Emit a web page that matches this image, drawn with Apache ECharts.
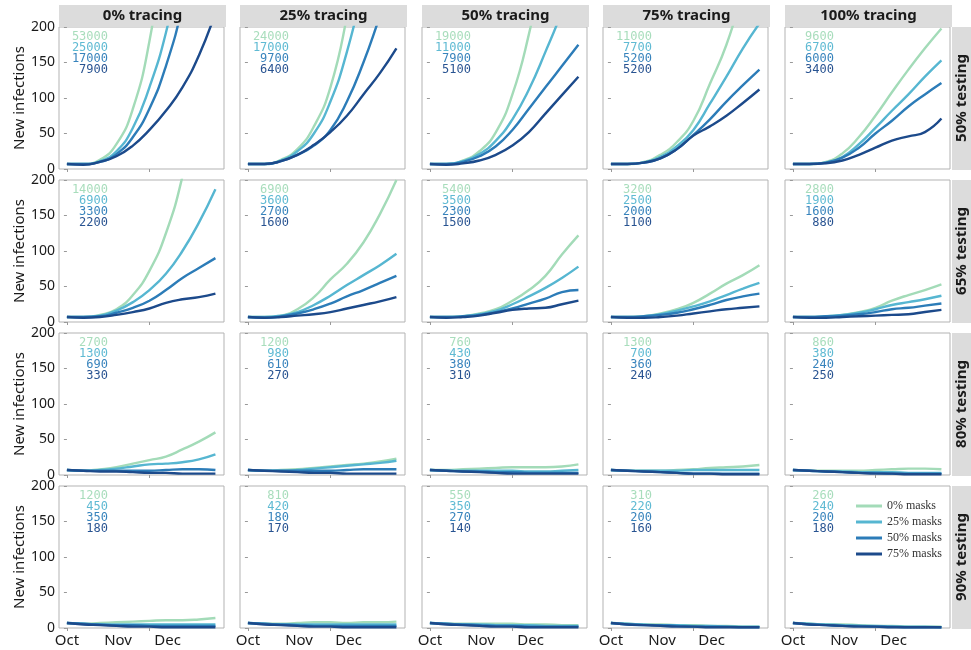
<!DOCTYPE html>
<html>
<head>
<meta charset="utf-8">
<script src="https://cdn.jsdelivr.net/npm/echarts@6/dist/echarts.min.js"></script>
<style>
  html, body { margin: 0; background: #fff; }
  #main { width: 971px; height: 650px; }
</style>
</head>
<body>
<div id="main"></div>
<script>
// days since 1 Oct
const days = [0, 10, 20, 30, 40, 50, 60, 70, 80, 90];
const tracing = ['0% tracing', '25% tracing', '50% tracing', '75% tracing', '100% tracing'];
const testing = ['50% testing', '65% testing', '80% testing', '90% testing'];
const masks = ['0% masks', '25% masks', '50% masks', '75% masks'];
const monthDays = [0, 31, 61];
const monthLabels = ['Oct', 'Nov', 'Dec'];
const colors = ['#a3dbb8', '#56b6d1', '#2c7cb8', '#1c4a8b'];

// new infections per panel, one row per mask level (0%, 25%, 50%, 75%)
// 50% testing
const test50_tr0 = [
  [7, 7, 13, 35, 85, 180, 330, 500, 700, 900],
  [7, 7, 11, 25, 58, 115, 192, 300, 450, 600],
  [7, 7, 10, 21, 45, 85, 145, 230, 350, 480],
  [7, 6, 10, 18, 33, 55, 82, 115, 160, 220]
];
const test50_tr25 = [
  [7, 7, 13, 28, 60, 115, 215, 350, 500, 650],
  [7, 7, 12, 25, 50, 95, 165, 260, 380, 520],
  [7, 7, 11, 20, 33, 55, 95, 150, 215, 280],
  [7, 7, 11, 20, 34, 52, 75, 105, 135, 170]
];
const test50_tr50 = [
  [7, 7, 12, 25, 52, 105, 190, 300, 430, 560],
  [7, 7, 11, 21, 40, 70, 112, 165, 222, 290],
  [7, 7, 10, 18, 32, 55, 85, 115, 145, 175],
  [7, 6, 8, 12, 20, 33, 52, 78, 104, 130]
];
const test50_tr75 = [
  [7, 7, 10, 20, 38, 68, 120, 175, 250, 330],
  [7, 7, 9, 17, 32, 55, 92, 130, 170, 205],
  [7, 7, 9, 15, 28, 48, 70, 95, 118, 140],
  [7, 7, 9, 15, 28, 47, 60, 75, 93, 112]
];
const test50_tr100 = [
  [7, 7, 10, 22, 45, 75, 108, 140, 170, 198],
  [7, 7, 9, 17, 35, 58, 82, 105, 130, 153],
  [7, 7, 9, 16, 30, 50, 68, 88, 105, 121],
  [7, 7, 8, 12, 20, 30, 40, 46, 52, 71]
];
// 65% testing
const test65_tr0 = [
  [7, 7, 10, 18, 38, 72, 125, 205, 320, 450],
  [7, 7, 9, 16, 28, 45, 68, 100, 140, 187],
  [7, 7, 8, 13, 20, 30, 45, 62, 76, 90],
  [7, 6, 7, 10, 14, 19, 27, 32, 35, 40]
];
const test65_tr25 = [
  [7, 7, 9, 18, 35, 60, 82, 112, 152, 200],
  [7, 7, 9, 14, 24, 37, 52, 66, 80, 96],
  [7, 6, 8, 12, 18, 26, 36, 45, 55, 65],
  [7, 6, 7, 9, 11, 14, 19, 24, 29, 35]
];
const test65_tr50 = [
  [7, 7, 8, 12, 18, 30, 45, 65, 95, 122],
  [7, 7, 8, 11, 16, 25, 36, 48, 62, 78],
  [7, 7, 8, 10, 14, 19, 26, 33, 42, 45],
  [7, 6, 7, 9, 13, 17, 19, 20, 25, 30]
];
const test65_tr75 = [
  [7, 7, 8, 12, 18, 27, 40, 54, 66, 80],
  [7, 7, 8, 11, 16, 22, 29, 38, 47, 55],
  [7, 7, 8, 10, 13, 18, 24, 31, 36, 40],
  [7, 6, 6, 7, 9, 12, 15, 18, 20, 22]
];
const test65_tr100 = [
  [7, 7, 8, 10, 14, 20, 30, 38, 45, 53],
  [7, 7, 8, 10, 13, 18, 24, 28, 32, 37],
  [7, 7, 8, 9, 11, 14, 18, 20, 23, 26],
  [7, 6, 6, 7, 8, 9, 10, 11, 14, 17]
];
// 80% testing
const test80_tr0 = [
  [7, 6, 8, 11, 16, 21, 26, 36, 47, 60],
  [7, 6, 7, 9, 12, 15, 16, 18, 22, 29],
  [7, 6, 6, 6, 6, 6, 7, 8, 8, 7],
  [7, 6, 5, 5, 4, 3, 3, 2, 2, 2]
];
const test80_tr25 = [
  [7, 6, 7, 8, 10, 12, 14, 16, 19, 23],
  [7, 6, 6, 7, 9, 11, 13, 15, 17, 20],
  [7, 6, 6, 6, 6, 6, 7, 8, 8, 8],
  [7, 6, 5, 4, 3, 3, 2, 2, 2, 2]
];
const test80_tr50 = [
  [7, 7, 8, 9, 10, 11, 11, 11, 12, 15],
  [7, 6, 6, 6, 6, 6, 5, 5, 6, 7],
  [7, 6, 5, 5, 4, 4, 3, 3, 3, 3],
  [7, 6, 5, 4, 3, 2, 2, 2, 2, 2]
];
const test80_tr75 = [
  [7, 6, 6, 6, 7, 8, 10, 11, 12, 14],
  [7, 6, 6, 6, 6, 7, 7, 7, 7, 7],
  [7, 6, 5, 4, 3, 2, 2, 2, 2, 2],
  [7, 6, 5, 4, 3, 2, 2, 1, 1, 1]
];
const test80_tr100 = [
  [7, 6, 6, 6, 6, 7, 8, 9, 9, 8],
  [7, 6, 5, 5, 4, 4, 4, 3, 3, 3],
  [7, 6, 5, 4, 3, 3, 2, 2, 2, 2],
  [7, 6, 5, 4, 3, 2, 2, 1, 1, 1]
];
// 90% testing
const test90_tr0 = [
  [7, 6, 7, 8, 9, 10, 11, 11, 12, 14],
  [7, 6, 5, 5, 5, 5, 5, 5, 5, 5],
  [7, 6, 5, 4, 4, 3, 3, 3, 3, 3],
  [7, 5, 4, 3, 2, 2, 1, 1, 1, 1]
];
const test90_tr25 = [
  [7, 6, 6, 7, 8, 8, 7, 8, 8, 9],
  [7, 6, 5, 5, 5, 5, 5, 5, 5, 5],
  [7, 6, 5, 4, 3, 3, 3, 3, 3, 3],
  [7, 5, 4, 3, 2, 2, 1, 1, 1, 1]
];
const test90_tr50 = [
  [7, 6, 6, 6, 6, 6, 5, 5, 4, 4],
  [7, 6, 5, 5, 4, 4, 4, 3, 3, 3],
  [7, 6, 5, 4, 3, 3, 2, 2, 2, 2],
  [7, 5, 4, 3, 2, 2, 1, 1, 1, 1]
];
const test90_tr75 = [
  [7, 6, 5, 5, 4, 4, 3, 3, 2, 2],
  [7, 6, 5, 4, 4, 3, 3, 2, 2, 2],
  [7, 5, 4, 4, 3, 2, 2, 2, 1, 1],
  [7, 5, 4, 3, 2, 2, 1, 1, 1, 1]
];
const test90_tr100 = [
  [7, 6, 5, 5, 4, 3, 3, 2, 2, 2],
  [7, 6, 5, 4, 3, 3, 2, 2, 2, 1],
  [7, 5, 4, 3, 3, 2, 2, 1, 1, 1],
  [7, 5, 4, 3, 2, 2, 1, 1, 1, 1]
];

// cumulative totals printed in each panel
const totals50 = [[53000, 25000, 17000, 7900], [24000, 17000, 9700, 6400], [19000, 11000, 7900, 5100], [11000, 7700, 5200, 5200], [9600, 6700, 6000, 3400]];
const totals65 = [[14000, 6900, 3300, 2200], [6900, 3600, 2700, 1600], [5400, 3500, 2300, 1500], [3200, 2500, 2000, 1100], [2800, 1900, 1600, 880]];
const totals80 = [[2700, 1300, 690, 330], [1200, 980, 610, 270], [760, 430, 380, 310], [1300, 700, 360, 240], [860, 380, 240, 250]];
const totals90 = [[1200, 450, 350, 180], [810, 420, 180, 170], [550, 350, 270, 140], [310, 220, 200, 160], [260, 240, 200, 180]];

const panels = [
  [test50_tr0, test50_tr25, test50_tr50, test50_tr75, test50_tr100],
  [test65_tr0, test65_tr25, test65_tr50, test65_tr75, test65_tr100],
  [test80_tr0, test80_tr25, test80_tr50, test80_tr75, test80_tr100],
  [test90_tr0, test90_tr25, test90_tr50, test90_tr75, test90_tr100]
];
const totals = [totals50, totals65, totals80, totals90];

// layout
const colLeft = [59, 240, 422, 603, 785];
const rowTop = [27, 180, 333, 486];
const W = 165, H = 142;
const sans = '"Noto Sans", "Open Sans", sans-serif';

const chart = echarts.init(document.getElementById('main'));

let grid = [], xAxis = [], yAxis = [], series = [], graphic = [];

tracing.forEach((t, c) => {
  graphic.push({
    type: 'rect', shape: {x: colLeft[c], y: 5, width: W + 2, height: 22},
    style: {fill: '#dcdcdc'}, silent: true
  });
  graphic.push({
    type: 'text', x: colLeft[c] + W / 2 + 1, y: 16,
    style: {text: t, font: 'bold 15px ' + sans, fill: '#1a1a1a', align: 'center', verticalAlign: 'middle', textAlign: 'center', textVerticalAlign: 'middle'}
  });
});
testing.forEach((t, r) => {
  graphic.push({
    type: 'rect', shape: {x: 952, y: rowTop[r], width: 22, height: H + 1},
    style: {fill: '#dcdcdc'}, silent: true
  });
  graphic.push({
    type: 'text', x: 962, y: rowTop[r] + H / 2, rotation: Math.PI / 2,
    style: {text: t, font: 'bold 15px ' + sans, fill: '#1a1a1a', align: 'center', verticalAlign: 'middle', textAlign: 'center', textVerticalAlign: 'middle'}
  });
});

for (let r = 0; r < 4; r++) {
  for (let c = 0; c < 5; c++) {
    const idx = grid.length;
    grid.push({left: colLeft[c], top: rowTop[r], width: W, height: H, show: true, borderColor: '#b3b3b3', borderWidth: 1});
    xAxis.push({
      type: 'value', gridIndex: idx, min: -4.8, max: 95.2,
      axisLine: {show: false}, splitLine: {show: false},
      axisTick: {show: true, customValues: [0, 50], length: 3, lineStyle: {color: '#999'}},
      axisLabel: {
        show: r === 3, customValues: monthDays, margin: 5,
        formatter: v => monthLabels[monthDays.indexOf(v)] || '',
        color: '#1a1a1a', fontFamily: sans, fontSize: 15
      }
    });
    yAxis.push({
      type: 'value', gridIndex: idx, min: 0, max: 200, interval: 50,
      axisLine: {show: false}, splitLine: {show: false},
      axisTick: {show: true, length: 3, lineStyle: {color: '#999'}},
      axisLabel: {show: c === 0, margin: 4, color: '#1a1a1a', fontFamily: sans, fontSize: 14},
      name: c === 0 ? 'New infections' : '', nameLocation: 'middle', nameGap: 31,
      nameTextStyle: {color: '#1a1a1a', fontFamily: sans, fontSize: 15}
    });
    panels[r][c].forEach((vals, m) => {
      series.push({
        name: masks[m], type: 'line', xAxisIndex: idx, yAxisIndex: idx,
        data: days.map((d, i) => [d, vals[i]]),
        showSymbol: false, smooth: 0.5,
        lineStyle: {width: 2.4, color: colors[m]}, itemStyle: {color: colors[m]},
        emphasis: {disabled: true}, z: 2 + m
      });
    });
    totals[r][c].forEach((v, m) => {
      graphic.push({
        type: 'text', x: colLeft[c] + 49, y: rowTop[r] + 10 + 11 * m,
        style: {text: String(v), font: '12px "DejaVu Sans Mono", monospace', fill: colors[m], opacity: 0.95,
          align: 'right', verticalAlign: 'middle', textAlign: 'right', textVerticalAlign: 'middle'}
      });
    });
  }
}

chart.setOption({
  animation: false,
  backgroundColor: '#fff',
  grid, xAxis, yAxis, series, graphic,
  legend: {
    data: masks, orient: 'vertical', left: 851, top: 495,
    icon: 'rect', itemWidth: 26, itemHeight: 3, itemGap: 4,
    textStyle: {fontFamily: '"Liberation Serif", "DejaVu Serif", serif', fontSize: 12, color: '#333', lineHeight: 12}
  }
});
</script>
</body>
</html>
